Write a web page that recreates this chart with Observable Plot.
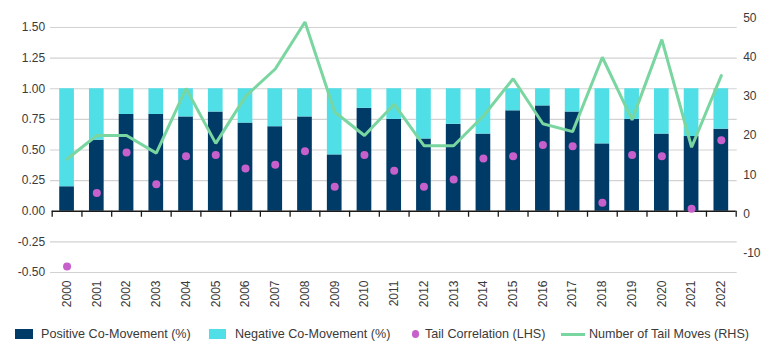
<!DOCTYPE html>
<html>
<head>
<meta charset="utf-8">
<script src="https://cdn.jsdelivr.net/npm/d3@7"></script>
<script src="https://cdn.jsdelivr.net/npm/@observablehq/plot@0.6"></script>
<style>
  html, body { margin: 0; padding: 0; background: #fff; }
  #chart { width: 770px; }
  #legend { position: relative; width: 770px; height: 38px; font-family: "Liberation Sans", Arial, sans-serif; font-size: 12.6px; color: #3a3a3a; }
  #legend .sw { position: absolute; }
  #legend .lb { position: absolute; top: 22px; transform: translateY(-50%); white-space: nowrap; }
</style>
</head>
<body>
<div id="chart"></div>
<div id="legend"></div>
<script>
// ---- data ----
const years = [2000, 2001, 2002, 2003, 2004, 2005, 2006, 2007, 2008, 2009, 2010, 2011,
               2012, 2013, 2014, 2015, 2016, 2017, 2018, 2019, 2020, 2021, 2022];
const positiveCoMovement = [0.20, 0.58, 0.79, 0.79, 0.77, 0.81, 0.72, 0.69, 0.77, 0.46, 0.84, 0.75,
                            0.59, 0.71, 0.63, 0.82, 0.86, 0.81, 0.55, 0.75, 0.63, 0.61, 0.67];
const tailCorrelation = [-0.45, 0.15, 0.48, 0.22, 0.45, 0.46, 0.35, 0.38, 0.49, 0.20, 0.46, 0.33,
                         0.20, 0.26, 0.43, 0.45, 0.54, 0.53, 0.07, 0.46, 0.45, 0.02, 0.58];
const tailMoves = [14, 20, 20, 15.5, 32, 18, 30, 37, 49, 26, 20, 28,
                   17.4, 17.4, 25, 34.5, 23, 21, 40, 24, 44.5, 17, 35.3];
const leftTicks = [-0.5, -0.25, 0, 0.25, 0.5, 0.75, 1, 1.25, 1.5];
const rightTicks = [-10, 0, 10, 20, 30, 40, 50];
const leftDomain = [-0.5, 1.5];
const rightDomain = [-15, 47.6];
const seriesNames = ["Positive Co-Movement (%)", "Negative Co-Movement (%)", "Tail Correlation (LHS)", "Number of Tail Moves (RHS)"];

const colors = { pos: "#003b67", neg: "#50dfe6", dot: "#c860cc", line: "#7ad6a0" };

// secondary (right) axis mapped into left-axis units
const toLeft = v => leftDomain[0] + (v - rightDomain[0]) / (rightDomain[1] - rightDomain[0]) * (leftDomain[1] - leftDomain[0]);
const fromLeft = u => rightDomain[0] + (u - leftDomain[0]) / (leftDomain[1] - leftDomain[0]) * (rightDomain[1] - rightDomain[0]);

const rows = years.map((y, i) => ({
  year: y,
  pos: positiveCoMovement[i],
  corr: tailCorrelation[i],
  moves: tailMoves[i]
}));
const boundaries = [...years.map(y => y - 0.5), years[years.length - 1] + 0.5];
const halfBar = 0.247;

const chart = Plot.plot({
  width: 770,
  height: 312,
  marginLeft: 51.7,
  marginRight: 34.3,
  marginTop: 27,
  marginBottom: 40,
  style: { fontFamily: "'Liberation Sans', Arial, sans-serif", fontSize: "12px", color: "#3a3a3a", background: "#fff" },
  x: { domain: [years[0] - 0.5, years[years.length - 1] + 0.5], axis: null },
  y: { domain: leftDomain, axis: null },
  marks: [
    Plot.gridY(leftTicks.filter(t => t !== 0), { stroke: "#d2d2d2", strokeOpacity: 1, strokeWidth: 1.2, insetLeft: -1.7, insetRight: -1 }),
    Plot.rectY(rows, { x1: d => d.year - halfBar, x2: d => d.year + halfBar, y1: 0, y2: "pos", fill: colors.pos }),
    Plot.rectY(rows, { x1: d => d.year - halfBar, x2: d => d.year + halfBar, y1: "pos", y2: 1, fill: colors.neg }),
    Plot.ruleY([0], { stroke: "#1a1a1a", strokeWidth: 1.3 }),
    Plot.ruleX(boundaries, { x: d => d, y1: 0, y2: 0, insetBottom: -6, stroke: "#1a1a1a", strokeWidth: 1.3 }),
    Plot.dot(rows, { x: "year", y: "corr", r: 4, fill: colors.dot, stroke: null }),
    Plot.line(rows, { x: "year", y: d => toLeft(d.moves), stroke: colors.line, strokeWidth: 3, strokeLinejoin: "miter", curve: "linear" }),
    Plot.axisY(leftTicks, { anchor: "left", label: null, tickSize: 0, tickPadding: 7, tickFormat: d => d.toFixed(2), fontSize: 12, fill: "#3a3a3a" }),
    Plot.axisY(rightTicks.map(toLeft), { anchor: "right", label: null, tickSize: 0, tickPadding: 7, tickFormat: d => String(Math.round(fromLeft(d))), fontSize: 12, fill: "#3a3a3a" }),
    Plot.axisX(years, { anchor: "bottom", label: null, tickSize: 0, tickPadding: 8, tickRotate: -90, tickFormat: d => String(d), fontSize: 12, fill: "#3a3a3a" })
  ]
});
document.getElementById("chart").appendChild(chart);

// ---- legend ----
const legend = document.getElementById("legend");
const items = [
  { name: seriesNames[0], sw: { left: 15, top: 17, width: 18, height: 10, background: colors.pos }, text: 41 },
  { name: seriesNames[1], sw: { left: 209, top: 17, width: 17, height: 10, background: colors.neg }, text: 235 },
  { name: seriesNames[2], sw: { left: 411.5, top: 18, width: 7.5, height: 8, background: colors.dot, borderRadius: "50%" }, text: 425 },
  { name: seriesNames[3], sw: { left: 561, top: 20.5, width: 24, height: 3, background: colors.line }, text: 589 }
];
items.forEach(it => {
  const s = document.createElement("div");
  s.className = "sw";
  Object.entries(it.sw).forEach(([k, v]) => { s.style[k] = typeof v === "number" ? v + "px" : v; });
  legend.appendChild(s);
  const t = document.createElement("div");
  t.className = "lb";
  t.style.left = it.text + "px";
  t.textContent = it.name;
  legend.appendChild(t);
});
</script>
</body>
</html>
